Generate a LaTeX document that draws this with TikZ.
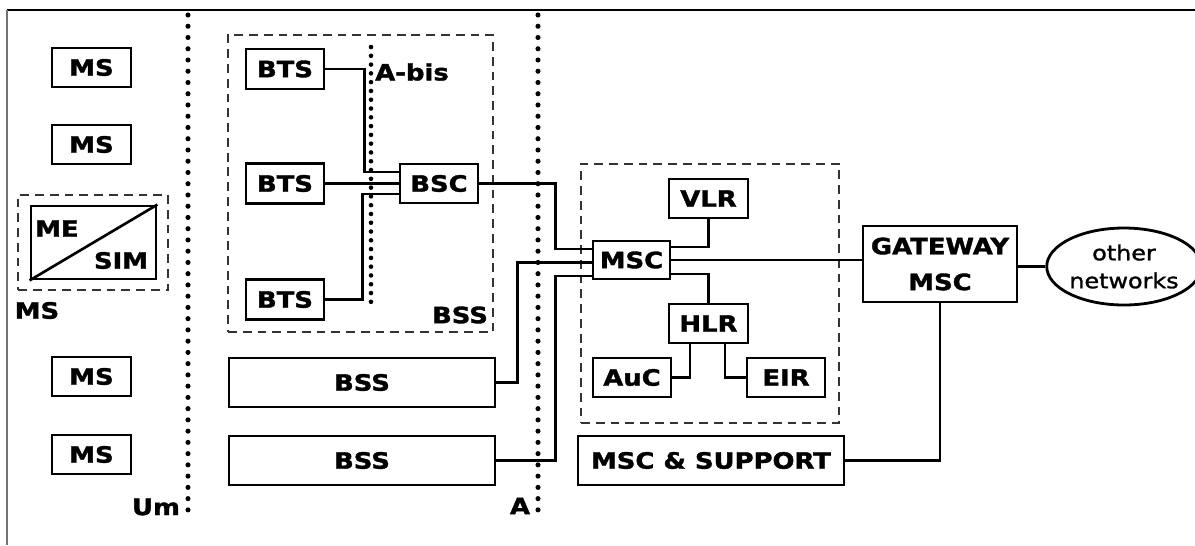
\documentclass[tikz,border=0pt]{standalone}
\usepackage{fontspec}
\newfontfamily\bfont{DejaVu Sans Bold}[FakeStretch=1.15,FakeBold=1.6]
\newfontfamily\rfont{DejaVu Sans}[FakeStretch=1.15,FakeBold=1.4]
\usetikzlibrary{positioning,calc,shapes.geometric}
\tikzset{
  box/.style ={draw,line width=1.6pt,inner sep=0pt,align=center,font=\bfont\fontsize{12.8}{20.4}\selectfont},
  grp/.style ={draw=black!80,line width=1.45pt,dash pattern=on 5pt off 3.4pt,inner sep=0pt},
  wire/.style={line width=1.5pt},
  air/.style ={line width=2.9pt,line cap=round,dash pattern=on 0pt off 6.4pt},
  abis/.style={line width=2.6pt,line cap=round,dash pattern=on 0pt off 5pt},
  lbl/.style ={inner sep=0pt,font=\bfont\fontsize{12.8}{14}\selectfont},
}

\begin{document}
\begin{tikzpicture}[line width=1.5pt]
\useasboundingbox (0,0) rectangle (23.9,-10.9);

% ===================== RAHMEN =======================================
\draw[line width=1.5pt] (0.14,-0.2) -- (23.9,-0.2);
\draw[black!55,line width=0.8pt] (0.14,-0.2) -- (0.14,-10.9);

% ===================== MOBILSTATIONEN ===============================
\node[box,minimum width=1.58cm,minimum height=0.78cm] (ms1) at (1.83,-1.35) {MS};
\node[box,minimum width=1.58cm,minimum height=0.78cm] (ms2) at (1.83,-2.89) {MS};
\node[box,minimum width=1.58cm,minimum height=0.78cm] (ms4) at (1.83,-7.53) {MS};
\node[box,minimum width=1.58cm,minimum height=0.78cm] (ms5) at (1.83,-9.09) {MS};

\node[grp,minimum width=3.0cm,minimum height=1.9cm] (msgrp) at (1.86,-4.85) {};
\node[draw,line width=1.6pt,minimum width=2.5cm,minimum height=1.46cm] (sim) at (1.87,-4.85) {};
\draw (sim.south west) -- (sim.north east);
\node[lbl] (me)   at (1.14,-4.57) {ME};
\node[lbl] (simt) at (2.42,-5.21) {SIM};
\node[lbl] (msl)  at (0.74,-6.21) {MS};

% Luftschnittstellen
\coordinate (umtop) at (3.76,-0.30);
\coordinate (umbot) at (3.76,-10.26);
\draw[air] (umtop) -- (umbot);
\node[lbl] (um) at (3.12,-10.14) {Um};
\coordinate (atop) at (10.76,-0.30);
\coordinate (abot) at (10.76,-10.26);
\draw[air] (atop) -- (abot);
\node[lbl] (al) at (10.40,-10.12) {A};

% ===================== BSS ==========================================
\node[grp,minimum width=5.30cm,minimum height=5.94cm] (bssgrp) at (7.21,-3.67) {};
\node[box,minimum width=1.56cm,minimum height=0.80cm] (bts1) at (5.70,-1.38) {BTS};
\node[box,minimum width=1.56cm,minimum height=0.80cm] (bts2) at (5.70,-3.67) {BTS};
\node[box,minimum width=1.56cm,minimum height=0.80cm] (bts3) at (5.70,-5.99) {BTS};
\node[box,minimum width=1.56cm,minimum height=0.78cm] (bsc)  at (8.78,-3.67) {BSC};
\coordinate (abtop) at (7.42,-0.94);
\coordinate (abbot) at (7.42,-6.18);
\draw[abis] (abtop) -- (abbot);
\node[lbl] (abl)  at (8.24,-1.44) {A-bis};
\node[lbl] (bssl) at (9.20,-6.30) {BSS};

\node[box,minimum width=5.32cm,minimum height=0.98cm] (bss1) at (7.24,-7.65) {BSS};
\node[box,minimum width=5.32cm,minimum height=0.98cm] (bss2) at (7.24,-9.21) {BSS};

\draw[wire] (bts1.east) -- ++(0.78,0) |- ($(bsc.west)+(0,0.23)$);
\draw[wire] (bts2.east) -- (bsc.west);
\draw[wire] (bts3.east) -- ++(0.74,0) |- ($(bsc.west)+(0,-0.21)$);

% ===================== NSS ==========================================
\node[grp,minimum width=5.16cm,minimum height=5.18cm] (nss) at (14.20,-5.87) {};
\node[box,minimum width=1.54cm,minimum height=0.76cm] (msc) at (12.63,-5.20) {MSC};
\node[box,minimum width=1.58cm,minimum height=0.78cm] (vlr) at (14.17,-3.97) {VLR};
\node[box,minimum width=1.58cm,minimum height=0.78cm] (hlr) at (14.17,-6.47) {HLR};
\node[box,minimum width=1.56cm,minimum height=0.78cm] (auc) at (12.64,-7.55) {AuC};
\node[box,minimum width=1.56cm,minimum height=0.78cm] (eir) at (15.72,-7.55) {EIR};
\node[box,minimum width=5.32cm,minimum height=0.98cm] (sup) at (14.22,-9.21) {MSC \& SUPPORT};

\node[box,minimum width=3.08cm,minimum height=1.52cm] (gw) at (18.80,-5.28) {GATEWAY\\MSC};
\node[draw,ellipse,line width=1.6pt,inner sep=0pt,minimum width=2.76cm,minimum height=1.54cm,
      align=center,font=\rfont\fontsize{11.8}{15.9}\selectfont] (other) at (22.48,-5.33) {other\\networks};

% A-Schnittstelle
\draw[wire] (bsc.east) -- ++(1.52,0) |- ($(msc.west)+(0,0.22)$);
\draw[wire] (bss1.east) -- ++(0.42,0) |- ($(msc.west)+(0,-0.05)$);
\draw[wire] (bss2.east) -- ++(1.18,0) |- ($(msc.west)+(0,-0.32)$);

\draw[wire] ($(msc.east)+(0,0.26)$) -| (vlr.south);
\draw[wire] ($(msc.east)+(0,-0.28)$) -| (hlr.north);
\draw[wire] (msc.east) -- (msc.east -| gw.west);
\draw[wire] ($(hlr.south)+(-0.37,0)$) |- (auc.east);
\draw[wire] ($(hlr.south)+(0.33,0)$) |- (eir.west);
\draw[wire] (gw.east |- other.west) -- (other.west);
\draw[wire] (sup.east) -| (gw.south);

\end{tikzpicture}
\end{document}
